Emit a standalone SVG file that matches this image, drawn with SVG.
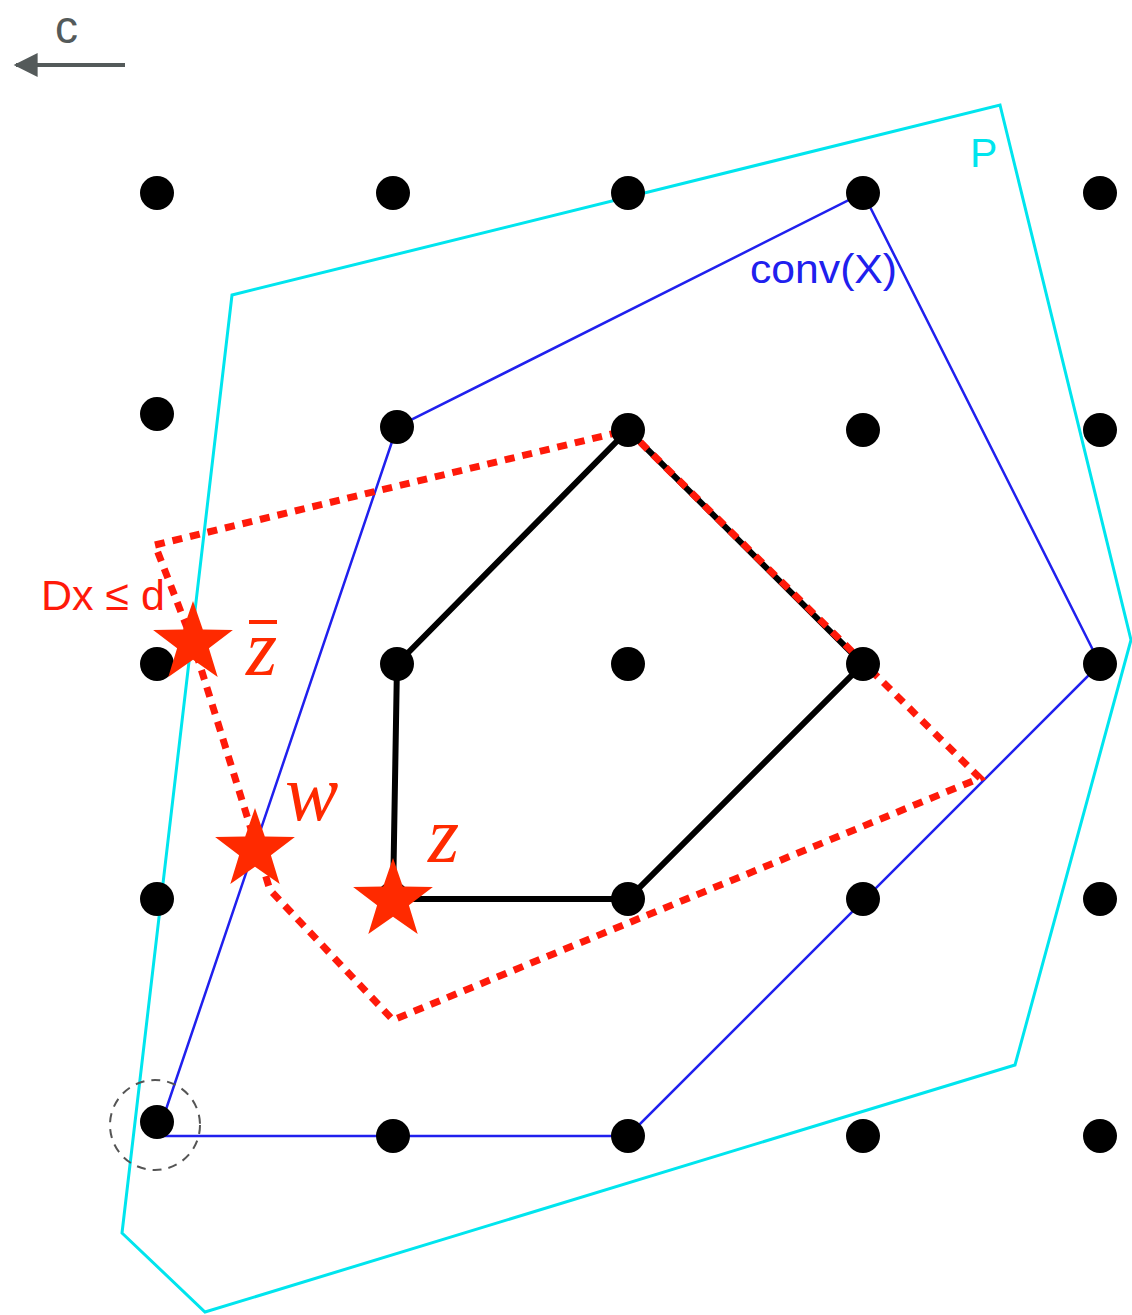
<svg xmlns="http://www.w3.org/2000/svg" width="1132" height="1315" viewBox="0 0 1132 1315">
<style>
.dot{fill:#000}
.star{fill:#ff2a00}
.lbl{font-family:"Liberation Sans",Arial,sans-serif}
.math{font-family:"Liberation Serif","Times New Roman",serif;font-style:italic;fill:#ff2a00}
</style>
<defs>
<marker id="ah" viewBox="0 0 10 10" refX="9" refY="5" markerWidth="6.5" markerHeight="6" markerUnits="strokeWidth" orient="auto-start-reverse">
<path d="M0,0 L10,5 L0,10 z" fill="#545a5a"/>
</marker>
<polygon id="st" points="0,-42 9.8,-13.6 39.9,-12.9 15.9,5.2 24.7,34 0,16.8 -24.7,34 -15.9,5.2 -39.9,-12.9 -9.8,-13.6"/>
</defs>
<rect width="1132" height="1315" fill="#fff"/>

<g id="cost">
<line x1="125" y1="65" x2="16" y2="65" stroke="#545a5a" stroke-width="4" marker-end="url(#ah)"/>
<text class="lbl" x="55" y="43" font-size="46" fill="#545a5a">c</text>
</g>

<g id="connectors">
<polygon id="P" points="232,295 1000,105 1131,640 1015,1065 205,1312 122,1233" fill="none" stroke="#00e5ee" stroke-width="3"/>
<polygon id="convX" points="157,1136 397,427 863,193 1100,664 628,1136" fill="none" stroke="#2020ee" stroke-width="2.5"/>
<polygon id="inner" points="397,664 628,430 863,664 628,899 393,899" fill="none" stroke="#000" stroke-width="6"/>
<polygon id="Dx" points="155,545 628,430 980,778 393,1020 270,890 193,643" fill="none" stroke="#ff1a0a" stroke-width="7" stroke-dasharray="10 8"/>
<circle id="ring" cx="155" cy="1125" r="45" fill="none" stroke="#555" stroke-width="2" stroke-dasharray="9 7"/>
</g>

<g id="grid">
<circle class="dot" cx="157" cy="193" r="17"/><circle class="dot" cx="393" cy="193" r="17"/><circle class="dot" cx="628" cy="193" r="17"/><circle class="dot" cx="863" cy="193" r="17"/><circle class="dot" cx="1100" cy="193" r="17"/>
<circle class="dot" cx="157" cy="414" r="17"/><circle class="dot" cx="397" cy="427" r="17"/><circle class="dot" cx="628" cy="430" r="17"/><circle class="dot" cx="863" cy="430" r="17"/><circle class="dot" cx="1100" cy="430" r="17"/>
<circle class="dot" cx="157" cy="664" r="17"/><circle class="dot" cx="397" cy="664" r="17"/><circle class="dot" cx="628" cy="664" r="17"/><circle class="dot" cx="863" cy="664" r="17"/><circle class="dot" cx="1100" cy="664" r="17"/>
<circle class="dot" cx="157" cy="899" r="17"/><circle class="dot" cx="393" cy="899" r="17"/><circle class="dot" cx="628" cy="899" r="17"/><circle class="dot" cx="863" cy="899" r="17"/><circle class="dot" cx="1100" cy="899" r="17"/>
<circle class="dot" cx="157" cy="1122" r="17"/><circle class="dot" cx="393" cy="1136" r="17"/><circle class="dot" cx="628" cy="1136" r="17"/><circle class="dot" cx="863" cy="1136" r="17"/><circle class="dot" cx="1100" cy="1136" r="17"/>
</g>

<g id="labels">
<text class="lbl" x="970" y="167" font-size="41" fill="#00e5ee">P</text>
<text class="lbl" x="750" y="283" font-size="40" fill="#2020ee" textLength="147" lengthAdjust="spacingAndGlyphs">conv(X)</text>
<text class="lbl" x="41" y="610" font-size="43" fill="#ff1a0a">Dx ≤ d</text>
</g>

<g id="zbar">
<use href="#st" class="star" x="193" y="643"/>
<text class="math" x="246" y="675" font-size="80">z</text>
<line x1="249" y1="622" x2="277" y2="622" stroke="#ff2a00" stroke-width="4"/>
</g>
<g id="w">
<use href="#st" class="star" x="255" y="850"/>
<text class="math" x="285" y="820" font-size="80">w</text>
</g>
<g id="z">
<use href="#st" class="star" x="393" y="900"/>
<text class="math" x="428" y="862" font-size="80">z</text>
</g>
</svg>
